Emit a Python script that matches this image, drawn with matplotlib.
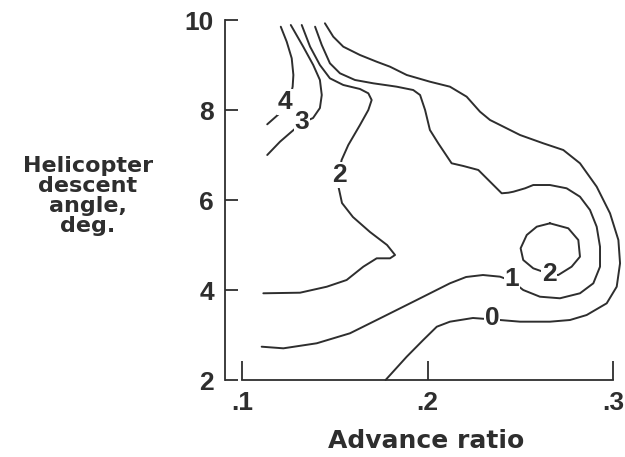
import matplotlib
matplotlib.use("Agg")
import matplotlib.pyplot as plt

# ---- data (advance ratio, descent angle deg) ----
x_ticks = [0.1, 0.2, 0.3]
x_tick_labels = [".1", ".2", ".3"]
y_ticks = [2, 4, 6, 8, 10]
y_tick_labels = ["2", "4", "6", "8", "10"]

c4_x = [0.1209, 0.1241, 0.1268, 0.1277, 0.1273, 0.1259, 0.1237, 0.1205, 0.1136]
c4_y = [9.851, 9.518, 9.149, 8.778, 8.518, 8.260, 8.089, 7.933, 7.682]

c3_x = [0.1263, 0.1330, 0.1384, 0.1420, 0.1430, 0.1420, 0.1383, 0.1322, 0.1259,
        0.1205, 0.1136]
c3_y = [9.889, 9.407, 9.000, 8.667, 8.333, 8.044, 7.822, 7.711, 7.489,
        7.296, 7.000]

c2_x = [0.1322, 0.1367, 0.1420, 0.1474, 0.1546, 0.1636, 0.1681, 0.1699, 0.1681,
        0.1636, 0.1573, 0.1537, 0.1520, 0.1518, 0.1539, 0.1598, 0.1690, 0.1782,
        0.1825, 0.1798, 0.1726, 0.1654, 0.1564, 0.1457, 0.1313, 0.1115]
c2_y = [9.889, 9.407, 9.000, 8.704, 8.556, 8.467, 8.371, 8.222, 8.000,
        7.667, 7.222, 6.889, 6.556, 6.333, 5.933, 5.622, 5.289, 5.000,
        4.778, 4.704, 4.704, 4.518, 4.222, 4.073, 3.940, 3.927]

c1_x = [0.1394, 0.1430, 0.1474, 0.1528, 0.1609, 0.1708, 0.1798, 0.1834, 0.1923,
        0.1960, 0.1987, 0.2013, 0.2058, 0.2130, 0.2193, 0.2274, 0.2319, 0.2400,
        0.2436, 0.2463, 0.2526, 0.2570, 0.2660, 0.2750, 0.2822, 0.2876, 0.2912,
        0.2930, 0.2930, 0.2894, 0.2822, 0.2714, 0.2606, 0.2516, 0.2454, 0.2391,
        0.2299, 0.2208, 0.2121, 0.1942, 0.1762, 0.1582, 0.1403, 0.1223, 0.1106]
c1_y = [9.851, 9.444, 9.038, 8.816, 8.667, 8.593, 8.540, 8.518, 8.444,
        8.333, 8.000, 7.556, 7.260, 6.816, 6.756, 6.667, 6.482, 6.149,
        6.162, 6.184, 6.260, 6.333, 6.333, 6.260, 6.073, 5.778, 5.407,
        4.962, 4.518, 4.149, 3.927, 3.816, 3.851, 4.000, 4.200, 4.296,
        4.333, 4.289, 4.149, 3.778, 3.407, 3.038, 2.816, 2.704, 2.740]

c0_x = [0.1447, 0.1492, 0.1546, 0.1636, 0.1726, 0.1798, 0.1888, 0.2013, 0.2121,
        0.2211, 0.2283, 0.2337, 0.2391, 0.2499, 0.2624, 0.2732, 0.2822, 0.2912,
        0.2984, 0.3029, 0.3038, 0.3020, 0.2966, 0.2858, 0.2768, 0.2660, 0.2499,
        0.2391, 0.2245, 0.2121, 0.2050, 0.1977, 0.1888, 0.1774]
c0_y = [9.927, 9.629, 9.407, 9.222, 9.073, 8.962, 8.778, 8.629, 8.518,
        8.296, 7.962, 7.778, 7.667, 7.444, 7.260, 7.111, 6.816, 6.296,
        5.704, 5.111, 4.593, 4.073, 3.704, 3.444, 3.333, 3.296, 3.296,
        3.333, 3.378, 3.296, 3.184, 2.889, 2.518, 2.000]

loop2_x = [0.2660, 0.2759, 0.2813, 0.2822, 0.2777, 0.2705, 0.2657, 0.2570,
           0.2516, 0.2502, 0.2535, 0.2589, 0.2660]
loop2_y = [5.482, 5.371, 5.111, 4.740, 4.518, 4.333, 4.356, 4.482,
           4.667, 4.927, 5.222, 5.407, 5.482]

label_text = ["4", "3", "2", "1", "2", "0"]
label_x = [0.1232, 0.1322, 0.1523, 0.2454, 0.2655, 0.2348]
label_y = [8.178, 7.733, 6.556, 4.244, 4.356, 3.378]

# ---- figure ----
W, H, DPI = 625, 457, 100
fig = plt.figure(figsize=(W / DPI, H / DPI), dpi=DPI)
fig.patch.set_facecolor("white")

# axes placed so that x=.1 -> 242px, .3 -> 613px, y=10 -> 20px, y=2 -> 380px
xlim = (0.085, 0.305)
ylim = (1.8, 10.2)
px_per_x = 1855.0
px_per_y = 45.0
left_px = 242 + (xlim[0] - 0.1) * px_per_x
right_px = 242 + (xlim[1] - 0.1) * px_per_x
top_px = 20 - (ylim[1] - 10) * px_per_y
bot_px = 20 + (10 - ylim[0]) * px_per_y
ax = fig.add_axes([left_px / W, 1 - bot_px / H, (right_px - left_px) / W, (bot_px - top_px) / H])
ax.set_xlim(*xlim)
ax.set_ylim(*ylim)
ax.patch.set_alpha(0)

ink = "#2e2e2e"
lw = 1.4

for xs, ys in [(c4_x, c4_y), (c3_x, c3_y), (c2_x, c2_y), (c1_x, c1_y),
               (c0_x, c0_y), (loop2_x, loop2_y)]:
    ax.plot(xs, ys, color=ink, lw=lw, solid_joinstyle="round", solid_capstyle="round")

digit_font = dict(family=["Liberation Sans", "DejaVu Sans"], weight="bold")
for t, lx, ly in zip(label_text, label_x, label_y):
    ax.text(lx, ly, t, ha="center", va="center", fontsize=19, color=ink,
            bbox=dict(fc="white", ec="none", pad=0.3), zorder=5, **digit_font)

# spines
for s in ["top", "right"]:
    ax.spines[s].set_visible(False)
ax.spines["left"].set_position(("data", 0.1 + (225 - 242) / px_per_x))
ax.spines["left"].set_bounds(2, 10)
ax.spines["bottom"].set_position(("data", 2))
ax.spines["bottom"].set_bounds(0.1, 0.3)
for s in ["left", "bottom"]:
    ax.spines[s].set_color(ink)
    ax.spines[s].set_linewidth(1.3)

ax.set_xticks(x_ticks)
ax.set_xticklabels(x_tick_labels)
ax.set_yticks(y_ticks)
ax.set_yticklabels(y_tick_labels)
ax.tick_params(axis="x", direction="in", length=14, width=1.3, color=ink, pad=8,
               labelsize=19, labelcolor=ink)
ax.tick_params(axis="y", direction="in", length=9, width=1.3, color=ink, pad=8,
               labelsize=19, labelcolor=ink)
for lab in ax.get_xticklabels() + ax.get_yticklabels():
    lab.set_family(["Liberation Sans", "DejaVu Sans"])
    lab.set_weight("bold")

fig.text(426 / W, 1 - 441 / H, "Advance ratio", ha="center", va="center",
         fontsize=18, color=ink, family=["DejaVu Sans"], weight="bold")
fig.text(88 / W, 1 - 196 / H, "Helicopter\ndescent\nangle,\ndeg.", ha="center",
         va="center", multialignment="center", linespacing=1.0,
         fontsize=16, color=ink, family=["DejaVu Sans"], weight="bold")

fig.savefig("out.png", dpi=DPI, facecolor="white")
